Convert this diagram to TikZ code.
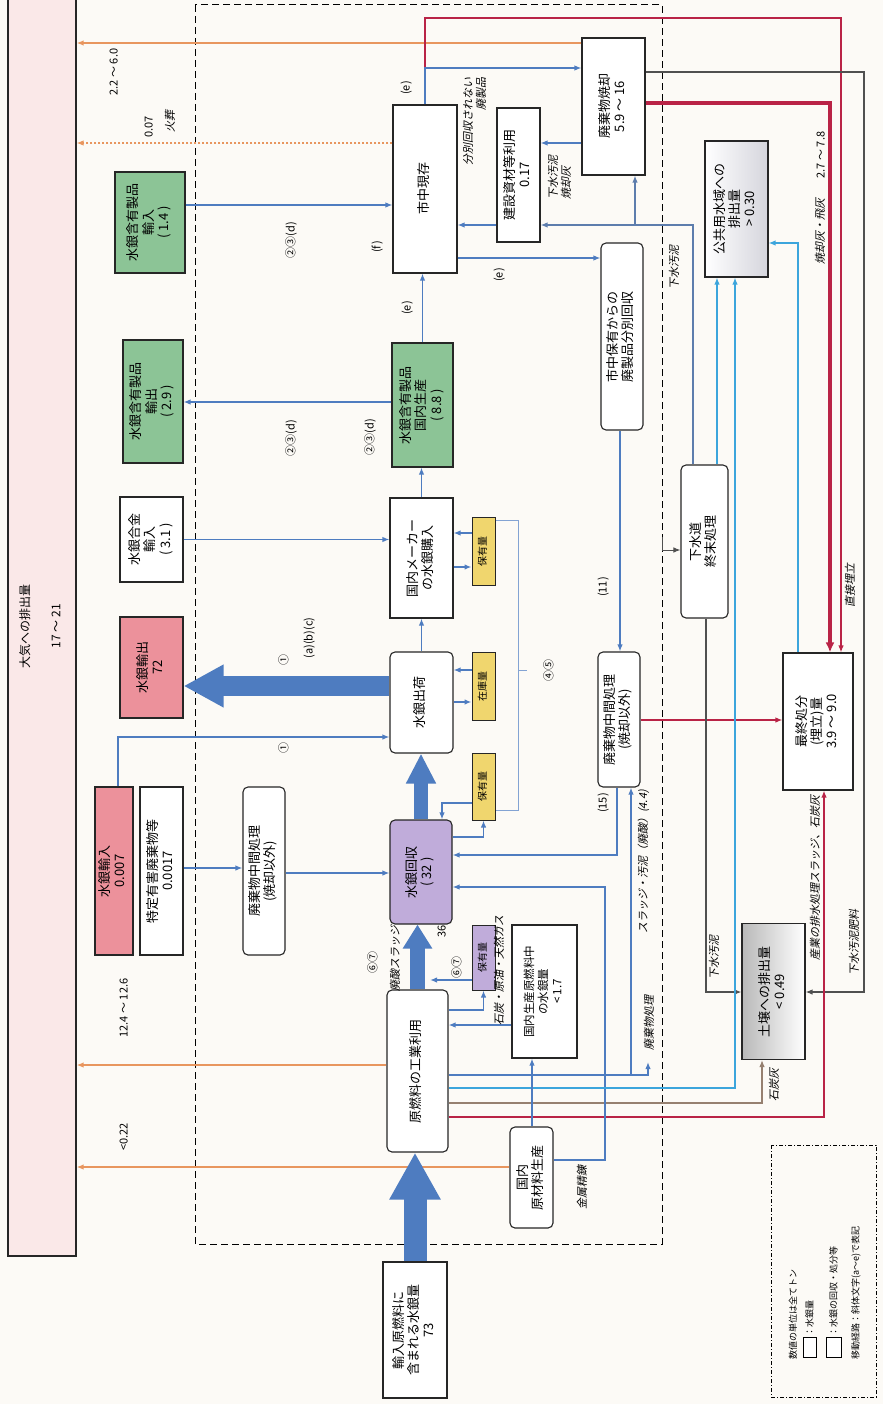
\documentclass[tikz,border=0pt]{standalone}
\usepackage{graphicx}
\usepackage{fontspec}
\setmainfont{Noto Sans CJK JP}[AutoFakeSlant=0.2]
\usetikzlibrary{calc,arrows.meta}

\definecolor{fondcr}{RGB}{252,250,246}
\definecolor{bleu}{RGB}{78,124,192}
\definecolor{bleuc}{RGB}{60,165,220}
\definecolor{orang}{RGB}{232,150,95}
\definecolor{rouge}{RGB}{185,35,70}
\definecolor{gris}{RGB}{80,80,80}
\definecolor{brun}{RGB}{150,128,112}
\definecolor{vert}{RGB}{140,196,150}
\definecolor{rose}{RGB}{236,145,155}
\definecolor{violet}{RGB}{192,172,218}
\definecolor{jaune}{RGB}{240,214,110}
\definecolor{rosep}{RGB}{250,232,232}

\newcommand{\vt}[1]{\rotatebox{90}{\begin{tabular}{@{}c@{}}#1\end{tabular}}}
\newcommand{\vl}[1]{\rotatebox{90}{\begin{tabular}{@{}l@{}}#1\end{tabular}}}
\newcommand{\vr}[1]{\rotatebox{90}{\begin{tabular}{@{}r@{}}#1\end{tabular}}}

\tikzset{
  boite/.style={draw=black!85, line width=1.1pt, fill=white, inner sep=0pt, font=\fontsize{13}{15}\selectfont},
  arrondi/.style={boite, rounded corners=5pt},
  petit/.style={draw=black!85, line width=1pt, inner sep=0pt, minimum width=23, font=\fontsize{10}{11}\selectfont},
  lab/.style={inner sep=0pt, font=\fontsize{11}{13}\selectfont},
  labi/.style={lab, font=\fontsize{11}{13}\selectfont\itshape},
  fl/.style={draw=bleu, line width=1.5pt, ->},
  fc/.style={draw=bleuc, line width=1.5pt, ->},
  fo/.style={draw=orang, line width=1.8pt, ->},
  fr/.style={draw=rouge, line width=1.6pt, ->},
  fg/.style={draw=gris, line width=1.2pt, ->},
  gros/.style={draw=bleu},
}

\begin{document}
\begin{tikzpicture}[x=1pt,y=-1pt,>={Latex[length=7pt,width=5.5pt]}]
\fill[fondcr] (0,0) rectangle (883,1404);
\useasboundingbox (0,0) rectangle (883,1404);

%Atmosphere
\node[draw=black!85, line width=1.2pt, fill=rosep, minimum width=68, minimum height=1260, inner sep=0pt, font=\fontsize{12}{14}\selectfont] (atm) at (42,626) {\vt{大気への排出量\\[17pt]17 〜 21}};

%Cadre national
\draw[line width=1pt, dash pattern=on 7pt off 4pt] (195,5) rectangle (662,1244);

%Boites
\node[boite, fill=vert, minimum width=70, minimum height=101] (gimp) at (150,222.5) {\vt{水銀含有製品\\輸入\\( 1.4 )}};
\node[boite, fill=vert, minimum width=60, minimum height=123] (gexp) at (153,401.5) {\vt{水銀含有製品\\輸出\\( 2.9 )}};
\node[boite, fill=vert, minimum width=61, minimum height=124] (gdom) at (422.5,405) {\vt{水銀含有製品\\国内生産\\( 8.8 )}};
\node[boite, minimum width=63, minimum height=85] (alloy) at (151.5,539.5) {\vt{水銀合金\\輸入\\( 3.1 )}};
\node[boite, fill=rose, minimum width=63, minimum height=101] (hgexp) at (151.5,667.5) {\vt{水銀輸出\\72}};
\node[boite, fill=rose, minimum width=38, minimum height=168] (hgimp) at (114,871) {\vt{水銀輸入\\0.007}};
\node[boite, minimum width=43, minimum height=168] (haz) at (161.5,871) {\vt{特定有害廃棄物等\\0.0017}};
\node[arrondi, minimum width=42, minimum height=168] (mid1) at (264,871) {\vt{廃棄物中間処理\\(焼却以外)}};
\node[boite, minimum width=64, minimum height=168] (stock) at (425,189) {\vt{市中現存}};
\node[boite, minimum width=43, minimum height=134] (build) at (518.5,175) {\vt{建設資材等利用\\0.17}};
\node[boite, minimum width=63, minimum height=137] (incin) at (613.5,106.5) {\vt{廃棄物焼却\\5.9 〜 16}};
\node[boite, left color=white, right color=blue!10!gray!30, minimum width=63, minimum height=136] (water) at (736.5,209) {\vt{公共用水域への\\排出量\\> 0.30}};
\node[arrondi, minimum width=42, minimum height=187] (sep) at (622,336.5) {\vt{市中保有からの\\廃製品分別回収}};
\node[arrondi, minimum width=47, minimum height=153] (sewer) at (704.5,541.5) {\vt{下水道\\終末処理}};
\node[arrondi, minimum width=42, minimum height=135] (mid2) at (619,719.5) {\vt{廃棄物中間処理\\(焼却以外)}};
\node[boite, minimum width=70, minimum height=137] (land) at (818,721.5) {\vt{最終処分\\(埋立)量\\3.9 〜 9.0}};
\node[boite, left color=gray!55, right color=white, minimum width=63, minimum height=136] (soil) at (773.5,991.5) {\vt{土壌への排出量\\< 0.49}};
\node[arrondi, minimum width=63, minimum height=101] (ship) at (421.5,702.5) {\vt{水銀出荷}};
\node[boite, minimum width=63, minimum height=120] (buy) at (421.5,558) {\vt{国内メーカー\\の水銀購入}};
\node[arrondi, fill=violet, minimum width=62, minimum height=104] (recov) at (421,872) {\vt{水銀回収\\( 32 )}};
\node[petit, fill=jaune, minimum height=68] (y1) at (483.5,551) {\vt{保有量}};
\node[petit, fill=jaune, minimum height=68] (y2) at (483.5,686) {\vt{在庫量}};
\node[petit, fill=jaune, minimum height=67] (y3) at (483.5,786.5) {\vt{保有量}};
\node[arrondi, minimum width=61, minimum height=162] (ind) at (417.5,1071) {\vt{原燃料の工業利用}};
\node[petit, fill=violet, minimum height=65] (pur) at (483.5,957.5) {\vt{保有量}};
\node[boite, minimum width=65, minimum height=133, font=\fontsize{11.5}{14}\selectfont] (fuel) at (544.5,991.5) {\vt{国内生産原燃料中\\の水銀量\\< 1.7}};
\node[arrondi, minimum width=43, minimum height=101] (raw) at (531.5,1177.5) {\vt{国内\\原材料生産}};
\node[boite, minimum width=64, minimum height=136] (imp) at (415,1330) {\vt{輸入原燃料に\\含まれる水銀量\\73}};

%Vers l'atmosphere
\draw[fo] (incin.west |- 0,43) -- (atm.east |- 0,43);
\draw[fo, line width=1.2pt, dash pattern=on 2pt off 2pt] (stock.west |- 0,143) -- (atm.east |- 0,143);
\draw[fo] (ind.west |- 0,1065) -- (atm.east |- 0,1065);
\draw[fo] (raw.west |- 0,1167) -- (atm.east |- 0,1167);

%Lignes rouges et grises
\draw[fr, line width=1.3pt] (stock.north) |- (841,18) -- (land.north -| 841,0);
\draw[fr, line width=3.2pt, -{Latex[length=10pt,width=9pt]}] (incin.east |- 0,103) -| (land.north -| 830,0);
\draw[fg] (incin.east |- 0,72) -| (864,992) -- (soil.east |- 0,992);
\draw[fr] (mid2.east |- 0,720) -- (land.west |- 0,720);
\draw[fr] (ind.east |- 0,1117) -| (land.south -| 824,0);
\draw[fg] (sewer.south -| 706,0) |- (soil.west |- 0,992);
\draw[fg, draw=brun] (ind.east |- 0,1103) -| (soil.south -| 762,0);
\draw[fg, line width=1pt] (662,537) |- (sewer.west |- 0,550);

%Fleches bleues
\draw[fl] (stock.north) |- (incin.west |- 0,68);
\draw[fl] (incin.west |- 0,143) -- (build.east |- 0,143);
\draw[fl] (build.west |- 0,225) -- (stock.east |- 0,225);
\draw[fl, draw=bleu!70!gray] (sewer.north -| 693,0) |- (build.east |- 0,225);
\draw[fl, draw=bleu!70!gray] (635,225) -- (incin.south -| 635,0);
\draw[fl] (stock.east |- 0,258) -- (sep.west |- 0,258);
\draw[fl] (sep.south -| 620,0) -- (mid2.north -| 620,0);
\draw[fl] (mid2.south -| 617,0) |- (recov.east |- 0,855);
\draw[fl] (raw.east |- 0,1160) -| (605,887) -- (recov.east |- 0,887);
\coordinate (dech) at (648,1062);
\draw[fl] (ind.east |- 0,1075) -| (dech);
\draw[fl] (631,1075) -- (mid2.south -| 631,0);
\draw[fc] (ind.east |- 0,1088) -| (water.south -| 735,0);
\draw[fc] (sewer.north -| 717,0) -- (water.south -| 717,0);
\draw[fc] (land.north -| 798,0) |- (water.east |- 0,243);
\draw[fl] (gimp.east |- 0,205) -- (stock.west |- 0,205);
\draw[fl] (gdom.west |- 0,402) -- (gexp.east |- 0,402);
\draw[fl] (alloy.east) -- (buy.west |- alloy.east);
\draw[fl] (gdom.north) -- (gdom.north |- stock.south);
\draw[fl] (buy.north) -- (gdom.south -| buy.north);
\draw[fl] (ship.north) -- (buy.south);
\draw[fl] (hgimp.north -| 118,0) |- (ship.west |- 0,737);
\draw[fl] (haz.east |- 0,868) -- (mid1.west |- 0,868);
\draw[fl] (mid1.east |- 0,873) -- (recov.west |- 0,873);
\draw[fl] (fuel.west |- 0,1025) -- (ind.east |- 0,1025);
\draw[fl] (raw.north -| 532,0) -- (fuel.south -| 532,0);
\draw[fl] (ind.east |- 0,1010) -| (pur.south);
\coordinate (ptin) at (430,980);
\draw[fl] (pur.west |- 0,980) -- (ptin);
\draw[fl] (y1.west |- 0,533) -- (buy.east |- 0,533);
\draw[fl] (buy.east |- 0,567) -- (y1.west |- 0,567);
\draw[fl] (y2.west |- 0,670) -- (ship.east |- 0,670);
\draw[fl] (ship.east |- 0,702) -- (y2.west |- 0,702);
\draw[fl] (y3.west |- 0,803) -| (recov.north -| 442,0);
\draw[fl] (recov.east |- 0,837) -| (y3.south);
\draw[bleu!70, line width=1pt] (y1.east |- 0,520) -| (518,810) -- (y3.east |- 0,810);
\draw[bleu!70, line width=1pt] (518,670) -- (527,670);

%Grosses fleches
\draw[gros, line width=23pt, -{Triangle[length=47pt,width=48pt]}] (imp.north) -- (imp.north |- ind.south);
\draw[gros, line width=15pt, -{Triangle[length=24pt,width=28pt]}] (ind.north) -- (ind.north |- recov.south);
\draw[gros, line width=14pt, -{Triangle[length=30pt,width=28pt]}] (recov.north) -- (recov.north |- ship.south);
\draw[gros, line width=20pt, -{Triangle[length=40pt,width=40pt]}] (ship.west |- 0,686) -- (hgexp.east |- 0,686);

%Etiquettes
\node[lab] (l1) at (115,72) {\vt{2.2 〜 6.0}};
\node[lab] (l2) at (150,127) {\vt{0.07}};
\node[labi] (l3) at (172,122) {\vt{火葬}};
\node[lab] (l4) at (125,1008) {\vt{12.4 〜 12.6}};
\node[lab] (l5) at (125,1137) {\vt{<0.22}};
\node[lab] (l6) at (292,240) {\vt{②③(d)}};
\node[lab] (l7) at (292,438) {\vt{②③(d)}};
\node[lab] (l8) at (371,437) {\vt{②③(d)}};
\node[lab] (l9) at (408,308) {\vt{(e)}};
\node[lab] (l10) at (407,88) {\vt{(e)}};
\node[lab] (l11) at (500,275) {\vt{(e)}};
\node[lab] (l12) at (378,247) {\vt{(f)}};
\node[labi] (l13) at (476,122) {\vr{分別回収されない\\廃製品}};
\node[labi] (l14) at (561,178) {\vl{下水汚泥\\焼却灰}};
\node[labi] (l15) at (676,268) {\vt{下水汚泥}};
\node[lab] (l16) at (822,155) {\vt{2.7 〜 7.8}};
\node[labi] (l17) at (822,232) {\vt{焼却灰・飛灰}};
\node[labi] (l18) at (852,585) {\vt{直接埋立}};
\node[lab] (l19) at (285,660) {\vt{①}};
\node[lab] (l20) at (310,638) {\vt{(a)(b)(c)}};
\node[lab] (l21) at (285,748) {\vt{①}};
\node[lab] (l22) at (550,670) {\vt{④⑤}};
\node[lab] (l23) at (604,587) {\vt{(11)}};
\node[lab] (l24) at (604,803) {\vt{(15)}};
\node[labi] (l25) at (645,862) {\vt{スラッジ・汚泥（廃酸）(4.4)}};
\node[labi] (l26) at (584,1187) {\vt{金属精錬}};
\node[labi] (l27) at (651,1023) {\vt{廃棄物処理}};
\node[labi] (l28) at (716,957) {\vt{下水汚泥}};
\node[labi] (l29) at (776,1085) {\vt{石炭灰}};
\node[labi] (l30) at (856,942) {\vt{下水汚泥肥料}};
\node[labi] (l31) at (817,878) {\vt{産業の排水処理スラッジ、石炭灰}};
\node[lab] (l32) at (443,931) {\vt{36}};
\node[lab] (l33) at (374,962) {\vt{⑥⑦}};
\node[labi] (l34) at (397,958) {\vt{廃酸スラッジ}};
\node[lab] (l35) at (458,967) {\vt{⑥⑦}};
\node[labi] (l36) at (501,970) {\vt{石炭・原油・天然ガス}};

%Legende
\draw[line width=1pt, dash pattern=on 4pt off 2pt on 1pt off 2pt] (771,1145) rectangle (876,1397);
\node[draw, line width=1pt, fill=white, minimum width=13, minimum height=20, inner sep=0pt] (sq1) at (809.5,1347) {};
\node[draw, line width=1pt, fill=white, minimum width=15, minimum height=20, inner sep=0pt] (sq2) at (833.5,1347) {};
\node[lab, anchor=south, font=\fontsize{9}{10}\selectfont] (lg1) at (793,1360) {\rotatebox{90}{数値の単位は全てトン}};
\node[lab, anchor=south, font=\fontsize{9}{10}\selectfont] (lg2) at (sq1.north) {\rotatebox{90}{：水銀量}};
\node[lab, anchor=south, font=\fontsize{9}{10}\selectfont] (lg3) at (sq2.north) {\rotatebox{90}{：水銀の回収・処分等}};
\node[lab, anchor=south, font=\fontsize{9}{10}\selectfont] (lg4) at (856,1360) {\rotatebox{90}{移動経路：斜体文字(a〜e)で表記}};
\end{tikzpicture}
\end{document}
